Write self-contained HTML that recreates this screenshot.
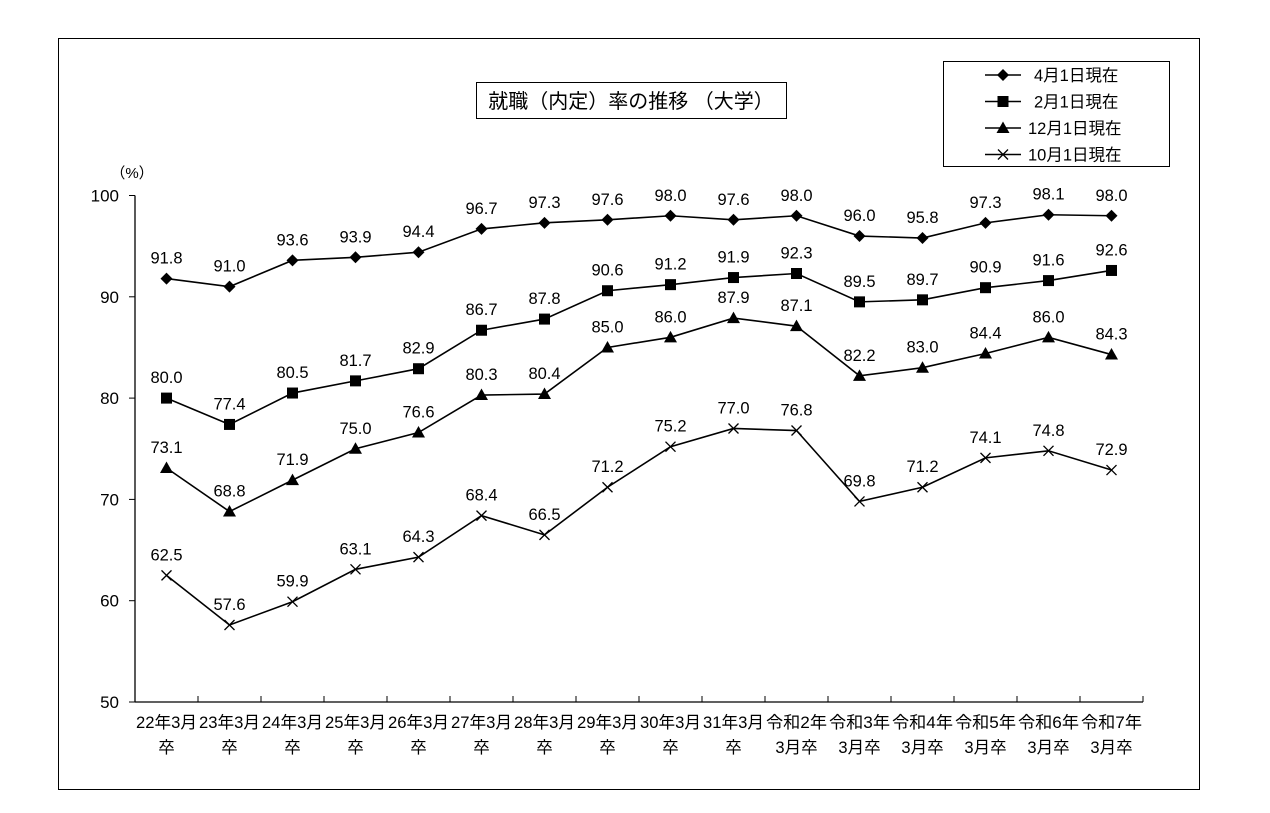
<!DOCTYPE html>
<html><head><meta charset="utf-8"><style>
body{margin:0;background:#fff;}
svg{display:block;font-family:"Liberation Sans","Noto Sans CJK JP",sans-serif;}
</style></head><body>
<svg id="chart" width="1270" height="813" viewBox="0 0 1270 813">
<rect x="58.5" y="38.5" width="1141" height="751" fill="#fff" stroke="#000" stroke-width="1"/>
<rect x="476.5" y="82.5" width="310" height="36" fill="#fff" stroke="#000"/>
<text x="631" y="108" font-size="20" text-anchor="middle">就職（内定）率の推移 （大学）</text>
<text x="132" y="178" font-size="15" text-anchor="middle">（%）</text>
<g id="axes"></g>
<g id="series"></g>
<g id="legend"></g>
</svg>
<script>
const categories=[["22年3月","卒"],["23年3月","卒"],["24年3月","卒"],["25年3月","卒"],["26年3月","卒"],["27年3月","卒"],["28年3月","卒"],["29年3月","卒"],["30年3月","卒"],["31年3月","卒"],["令和2年","3月卒"],["令和3年","3月卒"],["令和4年","3月卒"],["令和5年","3月卒"],["令和6年","3月卒"],["令和7年","3月卒"]];
const apr1=[91.8,91.0,93.6,93.9,94.4,96.7,97.3,97.6,98.0,97.6,98.0,96.0,95.8,97.3,98.1,98.0];
const feb1=[80.0,77.4,80.5,81.7,82.9,86.7,87.8,90.6,91.2,91.9,92.3,89.5,89.7,90.9,91.6,92.6];
const dec1=[73.1,68.8,71.9,75.0,76.6,80.3,80.4,85.0,86.0,87.9,87.1,82.2,83.0,84.4,86.0,84.3];
const oct1=[62.5,57.6,59.9,63.1,64.3,68.4,66.5,71.2,75.2,77.0,76.8,69.8,71.2,74.1,74.8,72.9];
const yTicks=[50,60,70,80,90,100];
const seriesNames=["4月1日現在","2月1日現在","12月1日現在","10月1日現在"];

const NS="http://www.w3.org/2000/svg";
const X0=135,CW=63,Y0=702,YT=195.5,YMIN=50,YMAX=100;
const xs=i=>X0+CW*(i+0.5);
const ys=v=>Y0-(v-YMIN)/(YMAX-YMIN)*(Y0-YT);
function mk(tag,attrs,parent){const e=document.createElementNS(NS,tag);for(const k in attrs)e.setAttribute(k,attrs[k]);parent.appendChild(e);return e;}
const axes=document.getElementById('axes');
let ya=mk('line',{x1:X0,y1:YT,x2:X0,y2:Y0,stroke:'#000','stroke-width':1.3},axes);


let xa=mk('line',{x1:X0,y1:Y0,x2:X0+CW*categories.length,y2:Y0,stroke:'#000','stroke-width':1.3},axes);


yTicks.forEach(v=>{
 mk('line',{x1:X0-6,y1:ys(v),x2:X0,y2:ys(v),stroke:'#000'},axes);
 const t=mk('text',{x:X0-16,y:ys(v)+6,'font-size':17,'text-anchor':'end'},axes);t.textContent=v;
 
 
});
categories.forEach((c,i)=>{
 mk('line',{x1:X0+CW*(i+1),y1:Y0-6,x2:X0+CW*(i+1),y2:Y0,stroke:'#000'},axes);
 const t1=mk('text',{x:xs(i),y:Y0+26,'font-size':16.5,'text-anchor':'middle','textLength':61,'lengthAdjust':'spacingAndGlyphs'},axes);t1.textContent=c[0];
 
 
 const t2=mk('text',{x:xs(i),y:Y0+51,'font-size':16.5,'text-anchor':'middle'},axes);t2.textContent=c[1];
 
 
});
function marker(type,x,y,g){
 if(type==='diamond')return mk('path',{d:`M${x} ${y-6}L${x+6} ${y}L${x} ${y+6}L${x-6} ${y}Z`,fill:'#000'},g);
 if(type==='square')return mk('rect',{x:x-5.5,y:y-5.5,width:11,height:11,fill:'#000'},g);
 if(type==='triangle')return mk('path',{d:`M${x} ${y-6.5}L${x+6.5} ${y+5}L${x-6.5} ${y+5}Z`,fill:'#000'},g);
 return mk('path',{d:`M${x-5} ${y-5}L${x+5} ${y+5}M${x+5} ${y-5}L${x-5} ${y+5}`,stroke:'#000','stroke-width':1.3,fill:'none'},g);
}
const sg=document.getElementById('series');
const data=[apr1,feb1,dec1,oct1],types=['diamond','square','triangle','cross'],keys=['apr1','feb1','dec1','oct1'];
data.forEach((arr,si)=>{
 const g=mk('g',{},sg);
 
 
 const p=mk('polyline',{points:arr.map((v,i)=>xs(i)+','+ys(v)).join(' '),fill:'none',stroke:'#000','stroke-width':1.6},g);
 
 
 arr.forEach((v,i)=>{
  const m=marker(types[si],xs(i),ys(v),g);
  
  
  const t=mk('text',{x:xs(i),y:ys(v)-15,'font-size':16.5,'text-anchor':'middle'},g);t.textContent=v.toFixed(1);
  
  
 });
});
const lg=document.getElementById('legend');
mk('rect',{x:943.5,y:61.5,width:226,height:105,fill:'#fff',stroke:'#000'},lg);
seriesNames.forEach((n,i)=>{
 const y=75+i*26.5;
 const e=mk('g',{},lg);
 
 
 mk('line',{x1:985,y1:y,x2:1021,y2:y,stroke:'#000','stroke-width':1.5},e);
 marker(types[i],1003,y,e);
 const t=mk('text',{x:i<2?1034:1028,y:y+6,'font-size':16.5},e);t.textContent=n;
});
</script>
</body></html>
